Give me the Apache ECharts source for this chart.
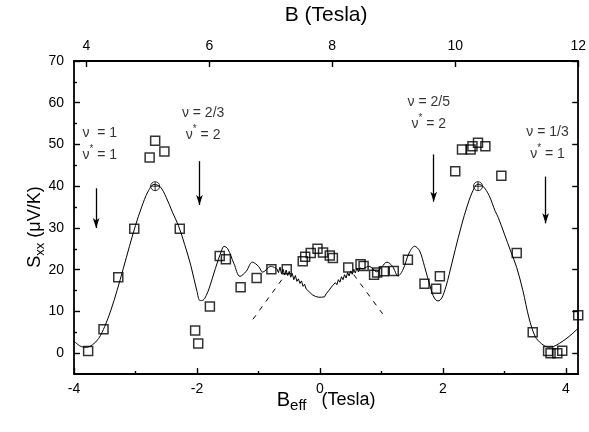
<!DOCTYPE html>
<html><head><meta charset="utf-8">
<script src="https://cdn.jsdelivr.net/npm/echarts@6/dist/echarts.min.js"></script>
<style>html,body{margin:0;padding:0;background:#fff}#c{width:589px;height:432px}</style>
</head><body><div id="c"></div>
<script>
// ---- data ----
const squareX = [-3.77,-3.52,-3.28,-3.02,-2.77,-2.68,-2.53,-2.28,-2.03,-1.98,-1.79,-1.63,-1.53,-1.29,-1.03,-0.79,-0.54,-0.28,-0.24,-0.15,-0.04,0.05,0.16,0.21,0.46,0.66,0.71,0.88,0.93,1.04,1.20,1.43,1.70,1.89,1.95,2.20,2.31,2.45,2.48,2.57,2.69,2.95,3.20,3.46,3.71,3.75,3.86,3.94,4.20];
const squareY = [0.5,5.7,18.2,29.8,46.9,50.9,48.3,29.8,5.4,2.3,11.2,23.3,22.5,15.8,18.0,20.1,20.1,22.0,23.1,24.0,25.0,24.1,23.4,22.8,20.5,21.3,20.9,18.8,19.3,19.6,19.7,22.4,16.6,15.4,18.4,43.6,48.8,48.8,49.6,50.4,49.6,42.5,24.0,5.0,0.5,0.0,0.0,0.6,9.1];
const peakX = [-2.68, 2.57];
const peakY = [40.0, 40.0];
const leftCurveX = [-4.00,-3.90,-3.80,-3.70,-3.60,-3.50,-3.40,-3.30,-3.20,-3.10,-3.00,-2.90,-2.80,-2.70,-2.60,-2.50,-2.40,-2.30,-2.20,-2.10,-2.00,-1.95,-1.90,-1.85,-1.80,-1.70,-1.60,-1.56,-1.50,-1.40,-1.30,-1.20,-1.10,-1.00,-0.93,-0.80,-0.70];
const leftCurveY = [2.9,1.7,1.4,2.0,3.5,6.4,10.3,15.0,20.2,25.5,30.6,35.0,38.6,40.4,39.9,37.3,33.8,30.5,26.0,21.0,14.8,12.6,12.7,13.8,15.6,20.3,24.6,25.6,25.0,21.5,18.4,19.6,21.8,20.8,19.4,20.8,20.2];
const noisyX = [-0.700,-0.675,-0.650,-0.625,-0.600,-0.575,-0.550,-0.525,-0.500,-0.475,-0.450,-0.425,-0.400,-0.375,-0.350,-0.325,-0.300,-0.275,-0.250,-0.225,-0.200,-0.175,-0.150,-0.125,-0.100,-0.075,-0.050,-0.025,0.000,0.025,0.050,0.075,0.100,0.125,0.150,0.175,0.200,0.225,0.250,0.275,0.300,0.325,0.350,0.375,0.400,0.425,0.450,0.475,0.500,0.525,0.550,0.575,0.600,0.625,0.650,0.700];
const noisyY = [20.2,19.3,20.6,19.0,20.1,18.7,19.9,18.6,19.6,18.2,19.1,17.6,18.6,17.2,17.8,16.7,17.3,16.0,16.5,15.4,15.7,14.7,14.9,14.0,14.2,13.6,13.7,13.4,13.6,13.4,13.7,13.5,14.2,14.1,15.1,14.9,16.1,15.7,16.9,16.4,17.6,17.0,18.3,17.6,18.8,18.0,19.3,18.5,19.7,18.9,20.1,19.2,20.4,19.5,20.4,20.2];
const rightCurveX = [0.70,0.80,0.92,1.00,1.09,1.18,1.27,1.35,1.45,1.54,1.62,1.70,1.80,1.86,1.92,1.98,2.05,2.10,2.20,2.30,2.40,2.50,2.57,2.65,2.75,2.85,2.90,3.00,3.10,3.20,3.30,3.40,3.50,3.60,3.72,3.80,3.90,4.00,4.10,4.20];
const rightCurveY = [20.2,20.8,19.5,20.6,21.8,20.8,18.5,20.0,24.0,25.6,24.5,20.8,15.6,13.2,12.5,13.2,16.0,18.8,24.8,30.5,35.5,39.3,40.5,40.0,37.8,34.0,32.5,28.5,24.5,20.5,15.0,8.4,4.0,2.3,1.4,1.6,2.4,3.4,4.6,6.0];
const dashLeftX = [-1.09, -0.60];
const dashLeftY = [8.1, 18.0];
const dashRightX = [0.55, 1.02];
const dashRightY = [18.8, 9.4];
const arrowX = [-3.64, -1.96, 1.85, 3.67];
const arrowTop = [39.5, 46.0, 47.6, 42.3];
const arrowBottom = [30.0, 35.5, 36.3, 31.1];
const noteX = [-3.58, -1.90, 1.77, 3.70];
const noteY = [50.0, 54.8, 57.4, 50.2];
const noteLines = [['ν  = 1','ν* = 1'], ['ν = 2/3','ν* = 2'], ['ν = 2/5','ν* = 2'], ['ν = 1/3','ν* = 1']];
const bottomTicks = [-4,-2,0,2,4];
const bottomMinor = [-3,-1,1,3];
const topTicks = [4,6,8,10,12];
const yTicks = [0,10,20,30,40,50,60,70];
const yMinor = [5,15,25,35,45,55,65];

// ---- chart ----
const FONT = 'Liberation Sans, Arial, Helvetica, sans-serif';
const zip = (a, b) => a.map((v, i) => [v, b[i]]);
const axisLine = {show: true, onZero: false, lineStyle: {color: '#000', width: 1.8}};
const noLine = {show: false, onZero: false};
const lbl = {color: '#000', fontSize: 14, fontFamily: FONT};
const chart = echarts.init(document.getElementById('c'), null, {renderer: 'canvas'});
const richNote = {
  a: {fontSize: 14, fontFamily: FONT, color: '#000', lineHeight: 22},
  s: {fontSize: 10, fontFamily: FONT, color: '#000', verticalAlign: 'top', lineHeight: 22, padding: [0, 0, 8, 0]}
};
function noteText(lines) {
  return lines.map(l => '{a|' + l.replace('*', '}{s|*}{a|') + '}').join('\n');
}
chart.setOption({
  animation: false,
  backgroundColor: '#fff',
  grid: {left: 74, right: 8, top: 59, bottom: 58},
  xAxis: [
    {type: 'value', position: 'bottom', min: -4, max: 4.2, axisLine,
     axisTick: {show: true, inside: true, length: 6, customValues: bottomTicks, lineStyle: {color: '#000', width: 1.4}},
     axisLabel: Object.assign({customValues: bottomTicks, margin: 8}, lbl),
     splitLine: {show: false},
     name: '{big|B}{sub|eff}{gap|}{b|(Tesla)}', nameLocation: 'middle', nameGap: 14, nameMoveOverlap: false,
     nameTextStyle: {rich: {
       big: {fontSize: 20, fontFamily: FONT, color: '#000'},
       b: {fontSize: 18, fontFamily: FONT, color: '#000'},
       gap: {width: 15},
       sub: {fontSize: 15, fontFamily: FONT, color: '#000', verticalAlign: 'bottom', padding: [10, 0, 0, 0]}}}},
    {type: 'value', position: 'top', min: 3.8, max: 12, axisLine,
     axisTick: {show: true, inside: true, length: 6, customValues: topTicks, lineStyle: {color: '#000', width: 1.4}},
     axisLabel: Object.assign({customValues: topTicks, margin: 8}, lbl),
     splitLine: {show: false},
     name: 'B (Tesla)', nameLocation: 'middle', nameGap: 35, nameMoveOverlap: false,
     nameTextStyle: {fontSize: 21, fontFamily: FONT, color: '#000'}},
    {type: 'value', position: 'bottom', min: -4, max: 4.2, axisLine: noLine,
     axisTick: {show: true, inside: true, length: 3, customValues: bottomMinor, lineStyle: {color: '#000', width: 1.4}},
     axisLabel: {show: false}, splitLine: {show: false}}
  ],
  yAxis: [
    {type: 'value', position: 'left', min: -5, max: 70, axisLine,
     axisTick: {show: true, inside: true, length: 6, customValues: yTicks, lineStyle: {color: '#000', width: 1.4}},
     axisLabel: Object.assign({customValues: yTicks, margin: 10}, lbl),
     splitLine: {show: false}},
    {type: 'value', position: 'left', min: -5, max: 70, axisLine: noLine,
     axisTick: {show: true, inside: true, length: 3, customValues: yMinor, lineStyle: {color: '#000', width: 1.4}},
     axisLabel: {show: false}, splitLine: {show: false}},
    {type: 'value', position: 'right', min: -5, max: 70, axisLine,
     axisTick: {show: true, inside: true, length: 6, customValues: yTicks, lineStyle: {color: '#000', width: 1.4}},
     axisLabel: {show: false}, splitLine: {show: false}}
  ],
  graphic: [{
    type: 'text', x: 35, y: 227, rotation: Math.PI / 2,
    style: {text: '{b|S}{sub|xx}{b| (μV/K)}', align: 'center', verticalAlign: 'middle',
      rich: {b: {fontSize: 18, fontFamily: FONT, fill: '#000'}, sub: {fontSize: 13, fontFamily: FONT, fill: '#000', verticalAlign: 'bottom', padding: [10, 0, 0, 0]}}}
  }],
  series: [
    {type: 'line', data: zip(leftCurveX, leftCurveY), smooth: 0.35, showSymbol: false, symbol: 'none',
     lineStyle: {color: '#000', width: 1}, silent: true},
    {type: 'line', data: zip(noisyX, noisyY), showSymbol: false, symbol: 'none',
     lineStyle: {color: '#000', width: 1}, silent: true},
    {type: 'line', data: zip(rightCurveX, rightCurveY), smooth: 0.35, showSymbol: false, symbol: 'none',
     lineStyle: {color: '#000', width: 1}, silent: true},
    {type: 'line', data: zip(dashLeftX, dashLeftY), showSymbol: false, symbol: 'none',
     lineStyle: {color: '#000', width: 1, type: [5, 6]}, silent: true},
    {type: 'line', data: zip(dashRightX, dashRightY), showSymbol: false, symbol: 'none',
     lineStyle: {color: '#000', width: 1, type: [5, 6]}, silent: true},
    {type: 'scatter', data: zip(squareX, squareY), symbol: 'rect', symbolSize: 9,
     itemStyle: {color: 'rgba(0,0,0,0)', borderColor: '#000', borderWidth: 1.5}, silent: true},
    {type: 'scatter', data: zip(peakX, peakY), symbol: 'path://M10,0 A10,10 0 1,1 10,20 A10,10 0 1,1 10,0 Z M0,10 L20,10 M10,0 L10,20',
     symbolSize: 9, itemStyle: {color: 'rgba(0,0,0,0)', borderColor: '#000', borderWidth: 1}, silent: true},
    {type: 'scatter', data: zip(noteX, noteY), symbolSize: 1, itemStyle: {color: 'rgba(0,0,0,0)'}, silent: true,
     label: {show: true, position: 'inside', align: 'center', verticalAlign: 'middle',
       formatter: p => noteText(noteLines[p.dataIndex]), rich: richNote},
     markLine: {silent: true, animation: false, label: {show: false},
       lineStyle: {color: '#000', width: 1.3, type: 'solid'},
       data: arrowX.map((x, i) => [
         {coord: [x, arrowTop[i]], symbol: 'none'},
         {coord: [x, arrowBottom[i]], symbol: 'arrow', symbolSize: [5, 10]}
       ])}}
  ]
});
</script></body></html>
